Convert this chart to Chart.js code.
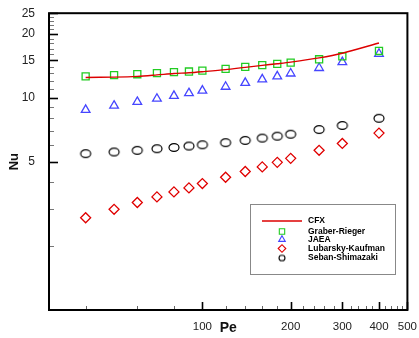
<!DOCTYPE html>
<html>
<head>
<meta charset="utf-8">
<script src="https://cdn.jsdelivr.net/npm/chart.js@4.4.1/dist/chart.umd.min.js"></script>
<style>
  html, body { margin: 0; padding: 0; background: #fff; }
  canvas { display: block; }
</style>
</head>
<body>
<canvas id="chart" width="419" height="338"></canvas>
<script>
const pe = [40, 50, 60, 70, 80, 90, 100, 120, 140, 160, 180, 200, 250, 300, 400];
const cfx = [12.45, 12.5, 12.6, 12.8, 13.0, 13.1, 13.25, 13.55, 13.9, 14.2, 14.45, 14.7, 15.4, 16.2, 18.1];
const graberRieger = [12.6, 12.77, 12.9, 13.05, 13.2, 13.28, 13.42, 13.67, 13.97, 14.23, 14.43, 14.63, 15.17, 15.67, 16.6];
const jaea = [8.76, 9.17, 9.55, 9.89, 10.2, 10.5, 10.8, 11.26, 11.75, 12.2, 12.6, 13.0, 13.8, 14.7, 16.1];
const lubarskyKaufman = [2.72, 2.98, 3.21, 3.41, 3.6, 3.76, 3.94, 4.22, 4.49, 4.72, 4.96, 5.18, 5.65, 6.09, 6.81];
const sebanShimazaki = [5.45, 5.55, 5.65, 5.75, 5.83, 5.92, 6.0, 6.14, 6.29, 6.45, 6.59, 6.73, 7.08, 7.4, 8.0];

const xTicks = [];
for (let v = 40; v <= 500; v += 20) xTicks.push(v);
const xLabels = [100, 200, 300, 400, 500];
const yTicks = [];
for (let v = 2; v <= 25; v++) yTicks.push(v);
const yLabels = [5, 10, 15, 20, 25];

const pts = arr => pe.map((p, i) => ({x: p, y: arr[i]}));

// hollow ellipse used for the Seban-Shimazaki symbol
function ellipse(rx, ry, lw) {
    const c = document.createElement('canvas');
    c.width = Math.ceil(rx * 2 + lw + 2);
    c.height = Math.ceil(ry * 2 + lw + 2);
    const g = c.getContext('2d');
    g.strokeStyle = '#000';
    g.lineWidth = lw;
    g.beginPath();
    g.ellipse(c.width / 2, c.height / 2, rx, ry, 0, 0, Math.PI * 2);
    g.stroke();
    return c;
}
const circleBig = ellipse(5, 3.9, 1.2);
const circleSmall = ellipse(3, 2.8, 1.1);

const frameAndTicks = {
    id: 'frameAndTicks',
    afterDraw(chart) {
        const {ctx, chartArea: a, scales: {x, y}} = chart;
        ctx.save();
        xTicks.forEach(v => {
            const px = Math.round(x.getPixelForValue(v)) + 0.5;
            const major = xLabels.includes(v);
            ctx.strokeStyle = major ? '#000' : '#666';
            ctx.lineWidth = major ? 1.6 : 1;
            ctx.beginPath();
            ctx.moveTo(px, a.bottom);
            ctx.lineTo(px, a.bottom - (major ? 8 : 4));
            ctx.stroke();
        });
        yTicks.forEach(v => {
            const py = Math.round(y.getPixelForValue(v)) + 0.5;
            const major = yLabels.includes(v);
            ctx.strokeStyle = major ? '#000' : '#777';
            ctx.lineWidth = major ? 1.6 : 1;
            ctx.beginPath();
            ctx.moveTo(a.left, py);
            ctx.lineTo(a.left + (major ? 9 : 5), py);
            ctx.stroke();
        });
        ctx.strokeStyle = '#000';
        ctx.lineWidth = 2;
        ctx.strokeRect(a.left, a.top, a.right - a.left, a.bottom - a.top);

        // legend box
        const bx = 250.5, by = 204.5, bw = 145, bh = 70;
        ctx.fillStyle = '#fff';
        ctx.fillRect(bx, by, bw, bh);
        ctx.strokeStyle = '#888';
        ctx.lineWidth = 1;
        ctx.strokeRect(bx, by, bw, bh);
        const rows = [221, 231.5, 239.5, 248.5, 258];
        ctx.font = 'bold 8.5px "Liberation Sans", Arial, sans-serif';
        ctx.textBaseline = 'middle';
        chart.data.datasets.forEach((ds, i) => {
            const ry = rows[i];
            ctx.strokeStyle = ds.borderColor;
            if (ds.showLine) {
                ctx.lineWidth = 1.3;
                ctx.beginPath();
                ctx.moveTo(262, ry);
                ctx.lineTo(302, ry);
                ctx.stroke();
            } else if (ds.pointStyle instanceof HTMLCanvasElement) {
                ctx.drawImage(circleSmall, 282 - circleSmall.width / 2, ry - circleSmall.height / 2);
            } else {
                ctx.lineWidth = 1.1;
                ctx.fillStyle = 'rgba(0,0,0,0)';
                Chart.helpers.drawPoint(ctx, {pointStyle: ds.pointStyle, radius: 3.8, rotation: 0, borderWidth: 1.1}, 282, ry);
            }
            ctx.fillStyle = '#000';
            ctx.fillText(ds.label, 308, ry);
        });
        ctx.restore();
    }
};

const marker = (label, data, color, style) => ({
    label,
    data: pts(data),
    borderColor: color,
    backgroundColor: 'rgba(0,0,0,0)',
    pointStyle: style,
    pointRadius: 5,
    pointHoverRadius: 5,
    pointBorderWidth: 1.3,
    showLine: false
});

new Chart(document.getElementById('chart'), {
    type: 'scatter',
    data: {
        datasets: [
            {
                label: 'CFX',
                data: pts(cfx),
                borderColor: '#dd0000',
                borderWidth: 1.4,
                pointRadius: 0,
                showLine: true,
                tension: 0.3
            },
            marker('Graber-Rieger', graberRieger, '#22cc22', 'rect'),
            marker('JAEA', jaea, '#4646ff', 'triangle'),
            marker('Lubarsky-Kaufman', lubarskyKaufman, '#e00000', 'rectRot'),
            marker('Seban-Shimazaki', sebanShimazaki, '#000', circleBig)
        ]
    },
    options: {
        responsive: false,
        animation: false,
        layout: {padding: {top: 11, right: 10, left: 0, bottom: 0}},
        plugins: {legend: {display: false}, tooltip: {enabled: false}},
        scales: {
            x: {
                type: 'logarithmic',
                min: 30,
                max: 500,
                afterBuildTicks: s => { s.ticks = xTicks.map(v => ({value: v})); },
                afterFit: s => { s.height = 28; },
                grid: {display: false},
                border: {display: false},
                ticks: {
                    autoSkip: false,
                    maxRotation: 0,
                    padding: 2,
                    color: '#222',
                    font: {family: '"Liberation Sans", Arial, sans-serif', size: 11.5},
                    callback: v => xLabels.includes(v) ? String(v) : ''
                },
                title: {
                    display: true,
                    text: 'Pe',
                    color: '#111',
                    padding: {bottom: 1},
                    font: {family: '"Liberation Sans", Arial, sans-serif', size: 14, weight: 'bold'}
                }
            },
            y: {
                type: 'logarithmic',
                min: 1,
                max: 25,
                afterBuildTicks: s => { s.ticks = yTicks.map(v => ({value: v})); },
                afterFit: s => { s.width = 49; },
                grid: {display: false},
                border: {display: false},
                ticks: {
                    autoSkip: false,
                    padding: 6,
                    color: '#222',
                    font: {family: '"Liberation Sans", Arial, sans-serif', size: 12},
                    callback: v => yLabels.includes(v) ? String(v) : ''
                },
                title: {
                    display: true,
                    text: 'Nu',
                    color: '#111',
                    padding: {top: 7},
                    font: {family: '"Liberation Sans", Arial, sans-serif', size: 13, weight: 'bold'}
                }
            }
        }
    },
    plugins: [frameAndTicks]
});
</script>
</body>
</html>
